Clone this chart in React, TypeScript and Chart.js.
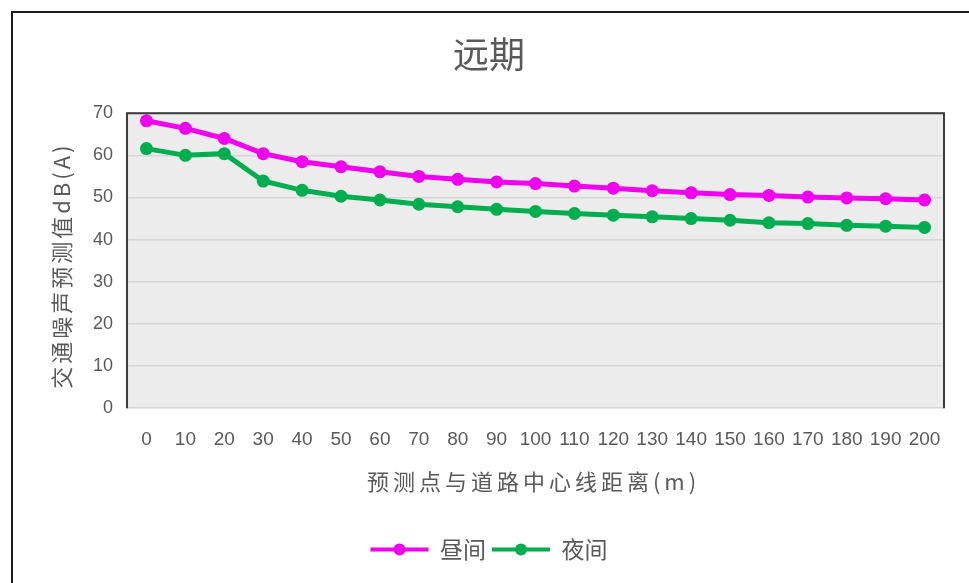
import React, { useEffect, useRef } from "react";
import { Chart, registerables } from "chart.js";

Chart.register(...registerables);

const categories = ["0", "10", "20", "30", "40", "50", "60", "70", "80", "90", "100", "110", "120", "130", "140", "150", "160", "170", "180", "190", "200"];
const dayValues = [68.2, 66.4, 64.0, 60.4, 58.5, 57.3, 56.1, 55.0, 54.3, 53.7, 53.3, 52.7, 52.2, 51.6, 51.1, 50.7, 50.5, 50.1, 49.9, 49.7, 49.4];
const nightValues = [61.6, 60.0, 60.4, 53.9, 51.7, 50.3, 49.4, 48.4, 47.8, 47.2, 46.7, 46.2, 45.8, 45.4, 45.0, 44.6, 44.0, 43.8, 43.4, 43.2, 42.9];
const seriesNames = ["昼间", "夜间"];
const chartTitle = "远期";
const xTitle = "预测点与道路中心线距离(m)";
const yTitle = "交通噪声预测值dB(A)";

const DAY_COLOR = "#f000ee";
const NIGHT_COLOR = "#00ad4f";
const TEXT = "#595959";
const CJK = '"Noto Sans CJK SC", "Noto Sans", sans-serif';
const NUM = '"Liberation Sans", "DejaVu Sans", sans-serif';

const decorPlugin = {
  id: "decor",
  beforeDraw(chart: any) {
    const { ctx, chartArea: a, width, height } = chart;
    ctx.save();
    ctx.fillStyle = "#ffffff";
    ctx.fillRect(0, 0, width, height);
    ctx.strokeStyle = "#1a1a1a";
    ctx.lineWidth = 2;
    ctx.beginPath();
    ctx.moveTo(12, height);
    ctx.lineTo(12, 12);
    ctx.lineTo(width, 12);
    ctx.stroke();
    ctx.fillStyle = "#ececec";
    ctx.fillRect(a.left, a.top, a.right - a.left, a.bottom - a.top);
    ctx.restore();
  },
  afterDatasetsDraw(chart: any) {
    const { ctx, chartArea: a } = chart;
    ctx.save();
    ctx.strokeStyle = "#3a3a3a";
    ctx.lineWidth = 2;
    ctx.beginPath();
    ctx.moveTo(a.left, a.bottom);
    ctx.lineTo(a.left, a.top);
    ctx.lineTo(a.right, a.top);
    ctx.lineTo(a.right, a.bottom);
    ctx.stroke();
    ctx.restore();
  },
  afterDraw(chart: any) {
    const { ctx, chartArea: a } = chart;
    ctx.save();
    ctx.fillStyle = TEXT;
    ctx.textAlign = "center";
    ctx.textBaseline = "middle";
    // x axis title
    ctx.font = `22px ${CJK}`;
    (ctx as any).letterSpacing = "4px";
    ctx.fillText(xTitle, (a.left + a.right) / 2 - 2, a.bottom + 73);
    // y axis title
    (ctx as any).letterSpacing = "3px";
    ctx.translate(62, (a.top + a.bottom) / 2 + 5);
    ctx.rotate(-Math.PI / 2);
    ctx.fillText(yTitle, 0, 0);
    ctx.restore();
    // legend markers
    const legend = chart.legend;
    if (legend && legend.legendHitBoxes) {
      legend.legendHitBoxes.forEach((box: any, i: number) => {
        const color = chart.data.datasets[i].borderColor;
        ctx.save();
        ctx.fillStyle = color;
        ctx.beginPath();
        ctx.arc(box.left + 29, box.top + box.height / 2, 6, 0, Math.PI * 2);
        ctx.fill();
        ctx.restore();
      });
    }
  },
};

export default function App() {
  const ref = useRef<HTMLCanvasElement | null>(null);
  useEffect(() => {
    if (!ref.current) return;
    const chart = new Chart(ref.current, {
      type: "line",
      data: {
        labels: categories,
        datasets: [
          {
            label: seriesNames[0],
            data: dayValues,
            borderColor: DAY_COLOR,
            backgroundColor: DAY_COLOR,
            borderWidth: 5,
            pointRadius: 6.5,
            pointHoverRadius: 6.5,
            pointBackgroundColor: DAY_COLOR,
            pointBorderWidth: 0,
            tension: 0,
          },
          {
            label: seriesNames[1],
            data: nightValues,
            borderColor: NIGHT_COLOR,
            backgroundColor: NIGHT_COLOR,
            borderWidth: 5,
            pointRadius: 6.5,
            pointHoverRadius: 6.5,
            pointBackgroundColor: NIGHT_COLOR,
            pointBorderWidth: 0,
            tension: 0,
          },
        ],
      },
      options: {
        responsive: false,
        animation: false,
        devicePixelRatio: 1,
        layout: { padding: { left: 34, right: 25, top: 0, bottom: 12 } },
        plugins: {
          title: {
            display: true,
            text: chartTitle,
            color: TEXT,
            font: { family: CJK, size: 36, weight: "normal" },
            padding: { top: 33, bottom: 37 },
          },
          legend: {
            position: "bottom",
            labels: {
              boxWidth: 58,
              boxHeight: 4,
              padding: 6,
              color: TEXT,
              font: { family: CJK, size: 23 },
              generateLabels: (c: any) =>
                c.data.datasets.map((d: any, i: number) => ({
                  text: d.label,
                  fillStyle: d.borderColor,
                  strokeStyle: d.borderColor,
                  lineWidth: 0,
                  hidden: false,
                  datasetIndex: i,
                  fontColor: TEXT,
                })),
            },
          },
          tooltip: { enabled: false },
        },
        scales: {
          x: {
            type: "category",
            offset: true,
            grid: { display: false, drawTicks: false },
            border: { display: false },
            ticks: {
              color: TEXT,
              font: { family: NUM, size: 19 },
              autoSkip: false,
              maxRotation: 0,
              minRotation: 0,
              padding: 20,
            },
            afterFit: (scale: any) => {
              scale.height += 61;
            },
          },
          y: {
            min: 0,
            max: 70,
            grid: { color: "#d6d6d6", lineWidth: 1.5, drawTicks: false },
            border: { display: false },
            ticks: {
              stepSize: 10,
              color: TEXT,
              font: { family: NUM, size: 18 },
              padding: 14,
            },
            afterFit: (scale: any) => {
              scale.width += 45;
            },
          },
        },
      },
      plugins: [decorPlugin],
    });
    return () => chart.destroy();
  }, []);
  return (
    <div style={{ position: "fixed", left: 0, top: 0, width: 969, height: 583, background: "#fff" }}>
      <canvas ref={ref} width={969} height={583} style={{ display: "block", width: 969, height: 583 }} />
    </div>
  );
}
